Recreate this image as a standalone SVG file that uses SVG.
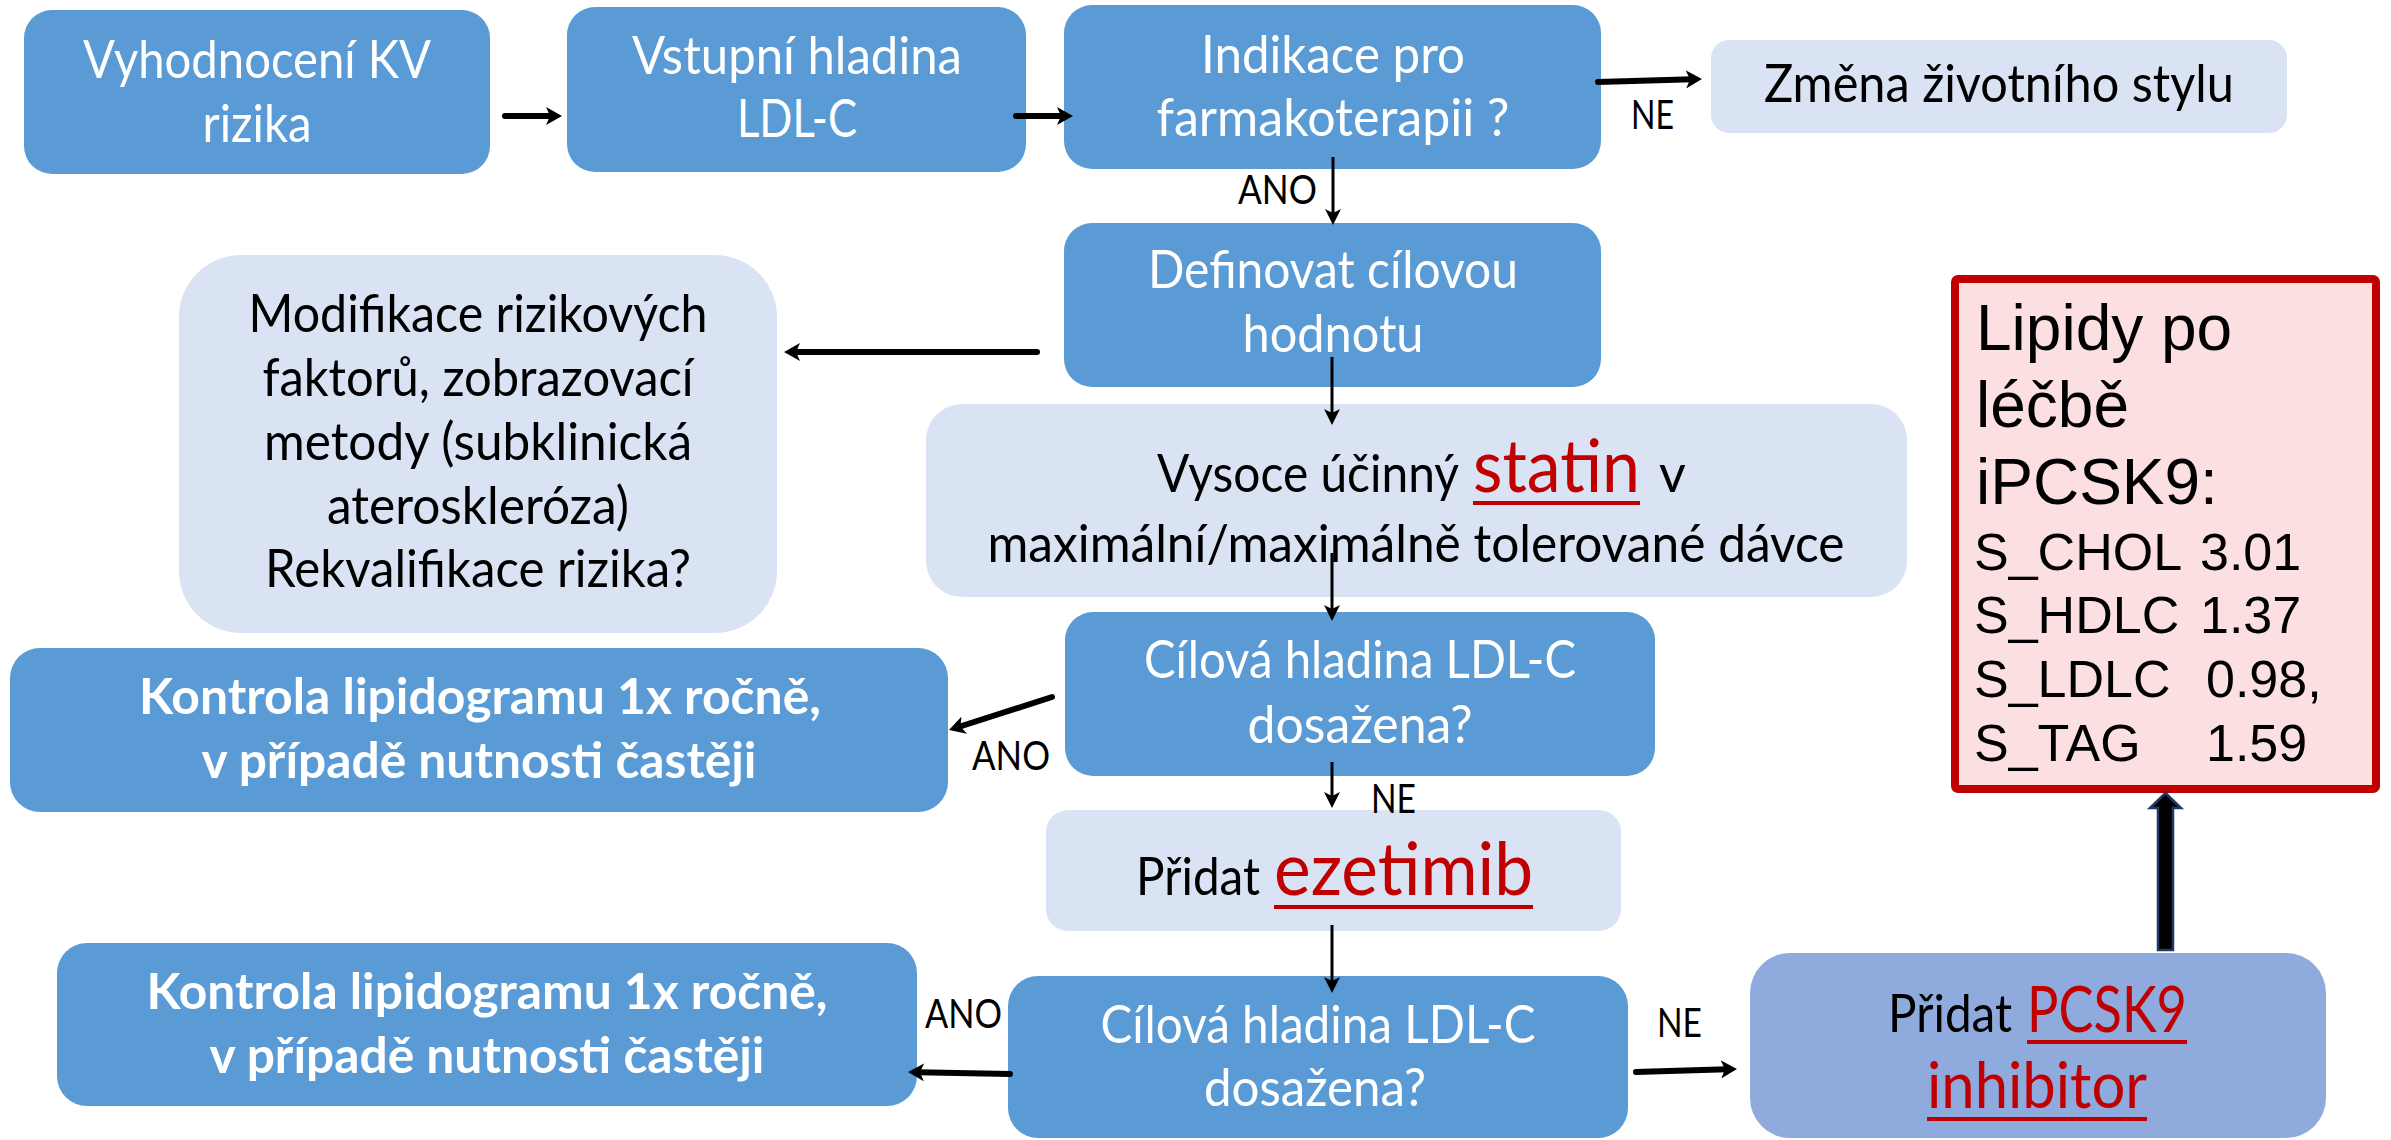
<svg xmlns="http://www.w3.org/2000/svg" width="2391" height="1140" viewBox="0 0 2391 1140">
<defs>
<style>
.blue{fill:#5B9BD5}
.light{fill:#DAE3F3}
.t{font-family:Lato,"Open Sans","Liberation Sans",sans-serif;font-size:52px;text-anchor:middle}
.s{text-anchor:start}
.w{fill:#FFFFFF}
.k{fill:#000000}
.b{font-weight:bold;font-size:50px}
.red{fill:#C00000}
.big{font-size:74px}
.mid{font-size:64px}
.lbl{font-family:Lato,"Open Sans","Liberation Sans",sans-serif;font-size:40px;fill:#000000}
.ar{font-family:"Liberation Sans",Arial,sans-serif;fill:#000000}
.thick{stroke:#000000;stroke-width:6;stroke-linecap:round;fill:none}
.thin{stroke:#000000;stroke-width:3;fill:none}
</style>
<marker id="hd" viewBox="0 0 16 18" refX="6" refY="9" markerUnits="userSpaceOnUse" markerWidth="16" markerHeight="18" orient="auto">
<path d="M0,0 L16,9 L0,18 L4,9 z" fill="#000000"/>
</marker>
<marker id="hs" viewBox="0 0 16 16" refX="4" refY="8" markerUnits="userSpaceOnUse" markerWidth="16" markerHeight="16" orient="auto">
<path d="M0,0 L16,8 L0,16 L4,8 z" fill="#000000"/>
</marker>
</defs>
<rect width="2391" height="1140" fill="#FFFFFF"/>

<g id="n1">
<rect class="blue" x="24" y="10" width="466" height="164" rx="28"/>
<text class="t w" x="257" y="78" textLength="348" lengthAdjust="spacingAndGlyphs">Vyhodnocení KV</text>
<text class="t w" x="257" y="142" textLength="109" lengthAdjust="spacingAndGlyphs">rizika</text>
</g>
<g id="n2">
<rect class="blue" x="567" y="7" width="459" height="165" rx="28"/>
<text class="t w" x="797" y="74" textLength="330" lengthAdjust="spacingAndGlyphs">Vstupní hladina</text>
<text class="t w" x="797" y="137" textLength="120" lengthAdjust="spacingAndGlyphs">LDL-C</text>
</g>
<g id="n3">
<rect class="blue" x="1064" y="5" width="537" height="164" rx="28"/>
<text class="t w" x="1333" y="73" textLength="264" lengthAdjust="spacingAndGlyphs">Indikace pro</text>
<text class="t w" x="1333" y="136" textLength="353" lengthAdjust="spacingAndGlyphs">farmakoterapii ?</text>
</g>
<g id="n4">
<rect class="light" x="1711" y="40" width="576" height="93" rx="18"/>
<text class="t k" x="1999" y="102" textLength="470" lengthAdjust="spacingAndGlyphs">Změna životního stylu</text>
</g>
<g id="n5">
<rect class="blue" x="1064" y="223" width="537" height="164" rx="28"/>
<text class="t w" x="1333" y="288" textLength="370" lengthAdjust="spacingAndGlyphs">Definovat cílovou</text>
<text class="t w" x="1333" y="352" textLength="181" lengthAdjust="spacingAndGlyphs">hodnotu</text>
</g>
<g id="n6">
<rect class="light" x="179" y="255" width="598" height="378" rx="62"/>
<text class="t k" x="478" y="332" textLength="459" lengthAdjust="spacingAndGlyphs">Modifikace rizikových</text>
<text class="t k" x="478" y="396" textLength="431" lengthAdjust="spacingAndGlyphs">faktorů, zobrazovací</text>
<text class="t k" x="478" y="460" textLength="428" lengthAdjust="spacingAndGlyphs">metody (subklinická</text>
<text class="t k" x="478" y="524" textLength="302" lengthAdjust="spacingAndGlyphs">ateroskleróza)</text>
<text class="t k" x="478" y="587" textLength="426" lengthAdjust="spacingAndGlyphs">Rekvalifikace rizika?</text>
</g>
<g id="n7">
<rect class="light" x="926" y="404" width="981" height="193" rx="36"/>
<text class="t k s" x="1157" y="492" textLength="302" lengthAdjust="spacingAndGlyphs">Vysoce účinný</text>
<text class="t red s big" x="1473" y="492" textLength="167" lengthAdjust="spacingAndGlyphs">statin</text>
<rect class="red" x="1473" y="501" width="167" height="4"/>
<text class="t k s" x="1659" y="492">v</text>
<text class="t k" x="1416" y="562" textLength="857" lengthAdjust="spacingAndGlyphs">maximální/maximálně tolerované dávce</text>
</g>
<g id="n8">
<rect class="blue" x="1065" y="612" width="590" height="164" rx="28"/>
<text class="t w" x="1360" y="678" textLength="432" lengthAdjust="spacingAndGlyphs">Cílová hladina LDL-C</text>
<text class="t w" x="1360" y="743" textLength="225" lengthAdjust="spacingAndGlyphs">dosažena?</text>
</g>
<g id="n9">
<rect class="blue" x="10" y="648" width="938" height="164" rx="30"/>
<text class="t w b" x="480" y="714" textLength="682" lengthAdjust="spacingAndGlyphs">Kontrola lipidogramu 1x ročně,</text>
<text class="t w b" x="479" y="778" textLength="555" lengthAdjust="spacingAndGlyphs">v případě nutnosti častěji</text>
</g>
<g id="n10">
<rect class="light" x="1046" y="810" width="575" height="121" rx="22"/>
<text class="t k s" x="1136" y="895" textLength="124" lengthAdjust="spacingAndGlyphs">Přidat</text>
<text class="t red s big" x="1274" y="895" textLength="259" lengthAdjust="spacingAndGlyphs">ezetimib</text>
<rect class="red" x="1274" y="905" width="259" height="4"/>
</g>
<g id="n11">
<rect class="blue" x="1008" y="976" width="620" height="162" rx="30"/>
<text class="t w" x="1318" y="1043" textLength="435" lengthAdjust="spacingAndGlyphs">Cílová hladina LDL-C</text>
<text class="t w" x="1315" y="1106" textLength="222" lengthAdjust="spacingAndGlyphs">dosažena?</text>
</g>
<g id="n12">
<rect class="blue" x="57" y="943" width="860" height="163" rx="30"/>
<text class="t w b" x="487" y="1009" textLength="681" lengthAdjust="spacingAndGlyphs">Kontrola lipidogramu 1x ročně,</text>
<text class="t w b" x="487" y="1073" textLength="555" lengthAdjust="spacingAndGlyphs">v případě nutnosti častěji</text>
</g>
<g id="n13">
<rect x="1750" y="953" width="576" height="185" rx="40" fill="#8FAADC"/>
<text class="t k s" x="1888" y="1032" textLength="124" lengthAdjust="spacingAndGlyphs">Přidat</text>
<text class="t red s mid" x="2027" y="1032" textLength="160" lengthAdjust="spacingAndGlyphs">PCSK9</text>
<rect class="red" x="2027" y="1040" width="160" height="4"/>
<text class="t red s mid" x="1927" y="1108" textLength="220" lengthAdjust="spacingAndGlyphs">inhibitor</text>
<rect class="red" x="1927" y="1117" width="220" height="4"/>
</g>
<g id="n14">
<rect x="1955" y="279" width="421" height="510" rx="3" fill="#FCE0E1" stroke="#C00000" stroke-width="8"/>
<text class="ar" x="1976" y="350" font-size="64">Lipidy po</text>
<text class="ar" x="1976" y="427" font-size="64">léčbě</text>
<text class="ar" x="1976" y="504" font-size="64">iPCSK9:</text>
<text class="ar" x="1974" y="570" font-size="52">S_CHOL <tspan x="2200">3.01</tspan></text>
<text class="ar" x="1974" y="633" font-size="52">S_HDLC <tspan x="2200">1.37</tspan></text>
<text class="ar" x="1974" y="697" font-size="52">S_LDLC  <tspan x="2206">0.98,</tspan></text>
<text class="ar" x="1974" y="761" font-size="52">S_TAG    <tspan x="2206">1.59</tspan></text>
</g>

<g id="connectors">
<line class="thick" x1="505" y1="116" x2="552" y2="116" marker-end="url(#hd)"/>
<line class="thick" x1="1016" y1="116" x2="1063" y2="116" marker-end="url(#hd)"/>
<line class="thick" x1="1598" y1="82" x2="1692" y2="79.3" marker-end="url(#hd)"/>
<line class="thin" x1="1333" y1="157" x2="1333" y2="213" marker-end="url(#hs)"/>
<line class="thick" x1="1037" y1="352" x2="794" y2="352" marker-end="url(#hd)"/>
<line class="thin" x1="1332" y1="357" x2="1332" y2="413" marker-end="url(#hs)"/>
<line class="thin" x1="1332" y1="553" x2="1332" y2="609" marker-end="url(#hs)"/>
<line class="thick" x1="1052" y1="697" x2="958.5" y2="727" marker-end="url(#hd)"/>
<line class="thin" x1="1332" y1="762" x2="1332" y2="796" marker-end="url(#hs)"/>
<line class="thin" x1="1332" y1="925" x2="1332" y2="981" marker-end="url(#hs)"/>
<line class="thick" x1="1010" y1="1074" x2="918" y2="1072.2" marker-end="url(#hd)"/>
<line class="thick" x1="1636" y1="1072" x2="1727" y2="1069.3" marker-end="url(#hd)"/>
<path d="M2158,950 L2158,808 L2150,808 L2165.5,793 L2181,808 L2173,808 L2173,950 Z" fill="#000000" stroke="#1F3864" stroke-width="2.5" stroke-linejoin="miter"/>
<text class="lbl" x="1631" y="129" textLength="43" lengthAdjust="spacingAndGlyphs">NE</text>
<text class="lbl" x="1238" y="204" textLength="79" lengthAdjust="spacingAndGlyphs">ANO</text>
<text class="lbl" x="972" y="770" textLength="78" lengthAdjust="spacingAndGlyphs">ANO</text>
<text class="lbl" x="1371" y="813" textLength="45" lengthAdjust="spacingAndGlyphs">NE</text>
<text class="lbl" x="925" y="1028" textLength="77" lengthAdjust="spacingAndGlyphs">ANO</text>
<text class="lbl" x="1657" y="1037" textLength="45" lengthAdjust="spacingAndGlyphs">NE</text>
</g>
</svg>
